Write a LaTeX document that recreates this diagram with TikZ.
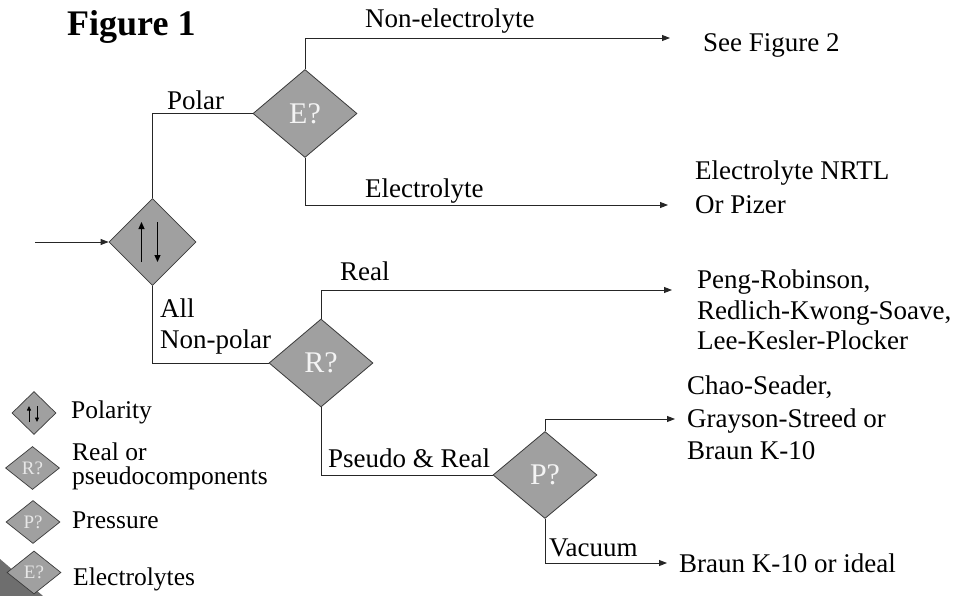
\documentclass[tikz,border=0pt]{standalone}
\usepackage{fontspec}
\setmainfont{Liberation Serif}
\usetikzlibrary{shapes.geometric,arrows.meta,calc}
\definecolor{dfill}{HTML}{A0A0A0}
\definecolor{dedge}{HTML}{3A3A3A}
\definecolor{dtext}{HTML}{F4F4F4}
\definecolor{cornerc}{HTML}{6E6E6E}
\begin{document}
\begin{tikzpicture}[x=1pt,y=-1pt,
  dia/.style={diamond,draw=dedge,fill=dfill,line width=0.8pt,inner sep=0pt,
    minimum width=104pt,minimum height=88pt,text=dtext,font=\fontsize{30}{32}\selectfont},
  ldia/.style={diamond,draw=dedge,fill=dfill,line width=0.7pt,inner sep=0pt,
    minimum width=54pt,minimum height=43pt,text=dtext!85!dfill,font=\fontsize{19}{20}\selectfont},
  conn/.style={draw=black!85,line width=0.9pt},
  arr/.style={conn,-{Triangle[length=8pt,width=6pt]}},
  inarr/.style={draw=black,line width=0.9pt,-{Triangle[length=7pt,width=6pt]}},
  linarr/.style={draw=black,line width=0.8pt,-{Triangle[length=4.5pt,width=4pt]}},
  lbl/.style={anchor=base west,inner sep=0pt,font=\fontsize{27}{31}\selectfont},
  leg/.style={anchor=base west,inner sep=0pt,font=\fontsize{25.5}{27}\selectfont},
  ]
\useasboundingbox (0,0) rectangle (955,596);
\fill[white] (0,0) rectangle (955,596);
\fill[cornerc] (0,559) -- (43,596) -- (0,596) -- cycle;

% title
\node[anchor=base west,inner sep=0pt,font=\bfseries\fontsize{36}{40}\selectfont] (title) at (67,36) {Figure 1};

% decision diamonds
\node[dia,minimum width=87pt,minimum height=87pt] (pol) at (152.5,242) {};
\node[dia] (E) at (305,113.5) {E?};
\node[dia] (R) at (321,363) {R?};
\node[dia,minimum height=87pt] (P) at (545,475) {P?};

% polarity glyph
\draw[inarr] ($(pol)+(-11,20)$) -- ($(pol)+(-11,-20)$);
\draw[inarr] ($(pol)+(5,-20)$) -- ($(pol)+(5,20)$);

% free ends
\coordinate (in) at (35,242);
\coordinate (tNE) at (670,38);
\coordinate (tEl) at (668,205);
\coordinate (tRe) at (672,290);
\coordinate (tCh) at (675,419);
\coordinate (tVa) at (667,563);

% connectors
\draw[arr] (in) -- (pol.west);
\draw[conn] (pol.north) |- (E.west);
\draw[conn] (pol.south) |- (R.west);
\draw[arr] (E.north) |- (tNE);
\draw[arr] (E.south) |- (tEl);
\draw[arr] (R.north) |- (tRe);
\draw[conn] (R.south) |- (P.west);
\draw[arr] (P.north) |- (tCh);
\draw[arr] (P.south) |- (tVa);

% branch labels
\node[lbl] (lPolar) at (167,110) {Polar};
\node[lbl] (lNE) at (365,28) {Non-electrolyte};
\node[lbl] (lEl) at (365,197) {Electrolyte};
\node[lbl] (lReal) at (340,280) {Real};
\node[lbl] (lAll) at (160,317) {All};
\node[lbl] (lNP) at (160,348) {Non-polar};
\node[lbl] (lPs) at (328,467) {Pseudo \& Real};
\node[lbl] (lVa) at (549,556) {Vacuum};

% results
\node[lbl] (rSee) at (703,52) {See Figure 2};
\node[lbl] (rEl1) at (695,180) {Electrolyte NRTL};
\node[lbl] (rEl2) at (695,213) {Or Pizer};
\node[lbl] (rPR1) at (697,288) {Peng-Robinson,};
\node[lbl] (rPR2) at (697,319) {Redlich-Kwong-Soave,};
\node[lbl] (rPR3) at (697,349) {Lee-Kesler-Plocker};
\node[lbl] (rCh1) at (687,394) {Chao-Seader,};
\node[lbl] (rCh2) at (687,427) {Grayson-Streed or};
\node[lbl] (rCh3) at (687,459) {Braun K-10};
\node[lbl] (rBr) at (679,572) {Braun K-10 or ideal};

% legend
\node[ldia,minimum width=44pt,minimum height=43pt] (gPol) at (34,413) {};
\draw[linarr] ($(gPol)+(-5,9)$) -- ($(gPol)+(-5,-7)$);
\draw[linarr] ($(gPol)+(3,-7)$) -- ($(gPol)+(3,9)$);
\node[ldia] (gR) at (32.5,468) {R?};
\node[ldia] (gP) at (33,522) {P?};
\node[ldia] (gE) at (34,572.5) {E?};
\node[leg] (tPol) at (71,418) {Polarity};
\node[leg] (tR1) at (72,460) {Real or};
\node[leg] (tR2) at (72,484) {pseudocomponents};
\node[leg] (tP) at (72,528) {Pressure};
\node[leg] (tE) at (73,585) {Electrolytes};
\end{tikzpicture}
\end{document}
